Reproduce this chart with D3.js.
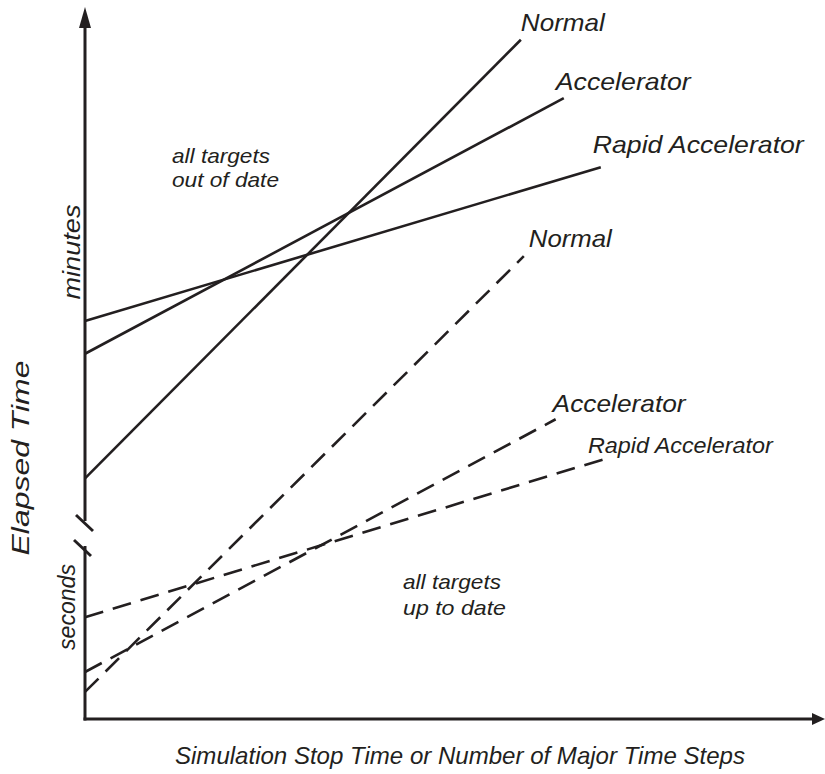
<!DOCTYPE html>
<html lang="en">
  <head>
    <meta charset="UTF-8" />
    <title>Elapsed Time vs Simulation Stop Time</title>
    <script src="https://d3js.org/d3.v7.min.js"></script>
    <style>
      body { margin: 0; background: #fff; }
      text { font-family: "Liberation Sans", Arial, sans-serif; font-style: italic; fill: #231f20; }
    </style>
  </head>
  <body>
    <svg width="825" height="774"></svg>
    <script>
      // Series and values (arbitrary units: x 0..10, y 0..10)
      const series = ["Normal", "Accelerator", "Rapid Accelerator"];
      // all targets out of date (solid lines)
      const outStartY = [3.38, 5.13, 5.59];
      const outEndX = [5.89, 6.47, 6.97];
      const outEndY = [9.54, 8.72, 7.75];
      // all targets up to date (dashed lines)
      const upStartY = [0.38, 0.66, 1.43];
      const upEndX = [5.93, 6.36, 7.08];
      const upEndY = [6.50, 4.21, 3.67];

      const ink = "#231f20";
      const svg = d3.select("svg");

      const x = d3.scaleLinear().domain([0, 10]).range([85, 825]);
      const y = d3.scaleLinear().domain([0, 10]).range([719, 7]);

      const line = d3.line().x(d => x(d[0])).y(d => y(d[1]));

      //Build line data
      const solid = series.map((s, i) => ({ name: s, pts: [[0, outStartY[i]], [outEndX[i], outEndY[i]]] }));
      const dashed = series.map((s, i) => ({ name: s, pts: [[0, upStartY[i]], [upEndX[i], upEndY[i]]] }));

      // label offsets relative to line end (px) and widths
      const solidLab = [[0, -9, 84], [-8, -8, 135], [-8, -14, 211]];
      const dashLab = [[5, -9, 83], [-3, -7, 133], [-21, -5, 185]];

      //Lines
      svg.append("g").selectAll("path").data(solid).enter().append("path")
        .attr("d", d => line(d.pts))
        .attr("fill", "none").attr("stroke", ink).attr("stroke-width", 2.6);

      svg.append("g").selectAll("path").data(dashed).enter().append("path")
        .attr("d", d => line(d.pts))
        .attr("fill", "none").attr("stroke", ink).attr("stroke-width", 2.6)
        .attr("stroke-dasharray", "19,10");

      //Line labels
      svg.append("g").selectAll("text").data(solid).enter().append("text")
        .attr("x", (d, i) => x(d.pts[1][0]) + solidLab[i][0])
        .attr("y", (d, i) => y(d.pts[1][1]) + solidLab[i][1])
        .attr("font-size", 24)
        .attr("textLength", (d, i) => solidLab[i][2])
        .attr("lengthAdjust", "spacingAndGlyphs")
        .text(d => d.name);

      svg.append("g").selectAll("text").data(dashed).enter().append("text")
        .attr("x", (d, i) => x(d.pts[1][0]) + dashLab[i][0])
        .attr("y", (d, i) => y(d.pts[1][1]) + dashLab[i][1])
        .attr("font-size", (d, i) => (i === 2 ? 22 : 24))
        .attr("textLength", (d, i) => dashLab[i][2])
        .attr("lengthAdjust", "spacingAndGlyphs")
        .text(d => d.name);

      //Axes
      const ax = svg.append("g").attr("stroke", ink).attr("stroke-width", 3);
      ax.append("line").attr("x1", 85).attr("x2", 85).attr("y1", 26).attr("y2", 521);
      ax.append("line").attr("x1", 85).attr("x2", 85).attr("y1", 546).attr("y2", 720.5);
      ax.append("line").attr("x1", 83.5).attr("x2", 814).attr("y1", 719).attr("y2", 719);
      // axis break
      ax.append("line").attr("x1", 76).attr("y1", 515).attr("x2", 93).attr("y2", 531);
      ax.append("line").attr("x1", 74).attr("y1", 540).attr("x2", 91).attr("y2", 556);

      svg.append("path").attr("d", "M85,7 L91,28 L79,28 Z").attr("fill", ink);
      svg.append("path").attr("d", "M825,719 L812,713 L812,725 Z").attr("fill", ink);

      //Region notes
      const note = (lines, lens, x0, y0, dy) => {
        lines.forEach((t, i) => {
          svg.append("text").attr("x", x0).attr("y", y0 + i * dy)
            .attr("font-size", 21)
            .attr("textLength", lens[i])
            .attr("lengthAdjust", "spacingAndGlyphs")
            .text(t);
        });
      };
      note(["all targets", "out of date"], [98, 107], 172, 163, 24);
      note(["all targets", "up to date"], [98, 103], 403, 589, 26);

      //Axis titles
      const vtext = (t, cx, cy, size, len) =>
        svg.append("text")
          .attr("transform", `translate(${cx},${cy}) rotate(-90)`)
          .attr("text-anchor", "middle")
          .attr("font-size", size)
          .attr("textLength", len)
          .attr("lengthAdjust", "spacingAndGlyphs")
          .text(t);
      vtext("minutes", 80, 252, 23, 95);
      vtext("Elapsed Time", 29, 458, 24, 195);
      vtext("seconds", 75, 607, 23, 86);

      svg.append("text")
        .attr("x", 460).attr("y", 764)
        .attr("text-anchor", "middle")
        .attr("font-size", 24)
        .attr("textLength", 570)
        .attr("lengthAdjust", "spacingAndGlyphs")
        .text("Simulation Stop Time or Number of Major Time Steps");
    </script>
  </body>
</html>
